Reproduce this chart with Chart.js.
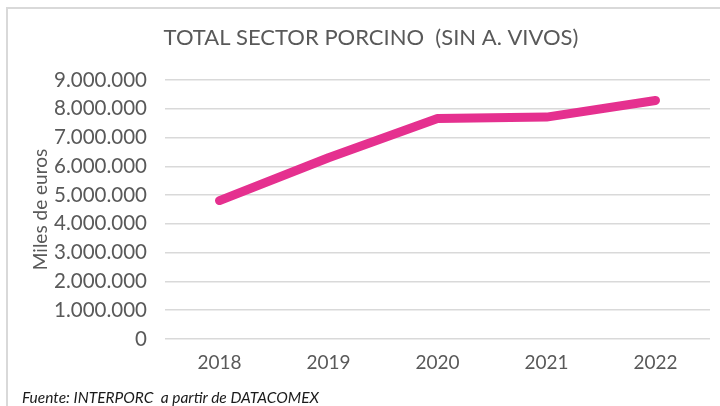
<!DOCTYPE html>
<html>
<head>
<meta charset="utf-8">
<script src="https://cdn.jsdelivr.net/npm/chart.js@4"></script>
<style>
  html, body { margin: 0; padding: 0; background: #ffffff; }
  #wrap { position: relative; width: 720px; height: 406px; overflow: hidden; background: #fff; }
  #frame { position: absolute; left: 6px; top: 7px; width: 800px; height: 600px; border: 2px solid #d9d9d9; box-sizing: border-box; }
  canvas { position: absolute; left: 0; top: 0; }
  #source { position: absolute; left: 22px; top: 388px; font-family: Lato, sans-serif; font-style: italic; font-size: 15.5px; color: #1a1a1a; white-space: pre; }
</style>
</head>
<body>
<div id="wrap">
  <div id="frame"></div>
  <canvas id="c" width="720" height="406"></canvas>
  <div id="source">Fuente: INTERPORC  a partir de DATACOMEX</div>
</div>
<script>
const chartTitle = 'TOTAL SECTOR PORCINO  (SIN A. VIVOS)';
const yAxisTitle = 'Miles de euros';
const years = ['2018', '2019', '2020', '2021', '2022'];
const totalValues = [4810000, 6300000, 7660000, 7710000, 8290000];
const yMin = 0;
const yMax = 9000000;
const yStep = 1000000;

function fmt(v) {
  return String(Math.round(v)).replace(/\B(?=(\d{3})+(?!\d))/g, '.');
}

new Chart(document.getElementById('c'), {
  type: 'line',
  data: {
    labels: years,
    datasets: [{
      data: totalValues,
      borderColor: '#e5308f',
      borderWidth: 9,
      borderCapStyle: 'round',
      borderJoinStyle: 'round',
      pointRadius: 0,
      tension: 0,
      fill: false
    }]
  },
  options: {
    responsive: false,
    animation: false,
    devicePixelRatio: 1,
    layout: { padding: { left: 32, right: 10, top: 0, bottom: 27 } },
    plugins: {
      legend: { display: false },
      tooltip: { enabled: false },
      title: {
        display: true,
        text: chartTitle,
        color: '#595959',
        font: { family: 'Lato', size: 22, weight: 'normal', lineHeight: 1.2 },
        padding: { top: 25, bottom: 28.6 }
      }
    },
    scales: {
      x: {
        offset: true,
        grid: { display: false, drawTicks: false },
        border: { display: false },
        ticks: { color: '#595959', font: { family: 'Lato', size: 19 }, padding: 12 },
        afterFit: s => { s.height = 40; }
      },
      y: {
        min: yMin,
        max: yMax,
        grid: { color: '#d9d9d9', lineWidth: 1.5, drawTicks: false },
        border: { display: false },
        ticks: {
          stepSize: yStep,
          color: '#595959',
          font: { family: 'Lato', size: 20.5 },
          padding: 18,
          callback: v => fmt(v)
        },
        title: {
          display: true,
          text: yAxisTitle,
          color: '#595959',
          font: { family: 'Lato', size: 19 },
          padding: { top: -3, bottom: 0 }
        },
        afterFit: s => { s.width = 133; }
      }
    }
  }
});
</script>
</body>
</html>
